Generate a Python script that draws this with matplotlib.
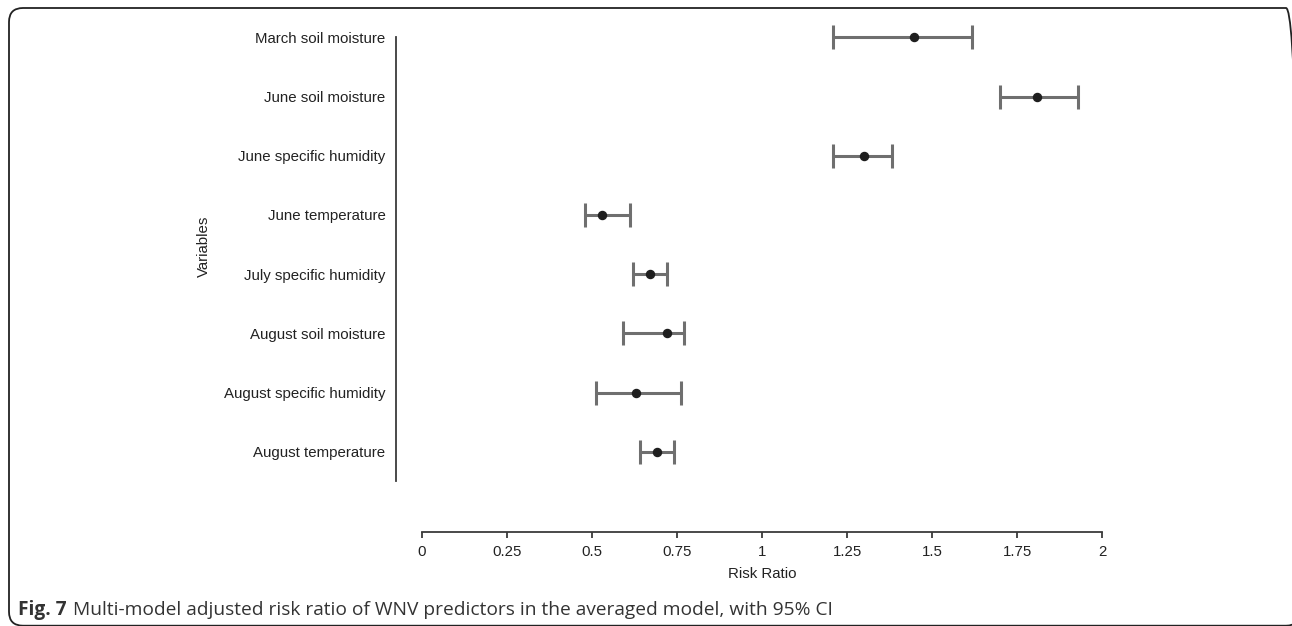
import matplotlib
matplotlib.use("Agg")
import matplotlib.pyplot as plt
from matplotlib.patches import FancyBboxPatch
from matplotlib.transforms import IdentityTransform

# data
variables = ["March soil moisture", "June soil moisture", "June specific humidity",
             "June temperature", "July specific humidity", "August soil moisture",
             "August specific humidity", "August temperature"]
risk_ratio = [1.447, 1.809, 1.30, 0.530, 0.671, 0.721, 0.630, 0.690]
ci_low = [1.209, 1.700, 1.209, 0.480, 0.621, 0.591, 0.511, 0.641]
ci_high = [1.618, 1.929, 1.382, 0.611, 0.722, 0.772, 0.761, 0.741]
xticks = [0, 0.25, 0.5, 0.75, 1, 1.25, 1.5, 1.75, 2]
xtick_labels = ["0", "0.25", "0.5", "0.75", "1", "1.25", "1.5", "1.75", "2"]

plt.rcParams['font.family'] = ['Liberation Sans', 'DejaVu Sans']
FS = 10.8

fig = plt.figure(figsize=(12.92, 6.26), dpi=100)
ax = fig.add_axes([396/1292, 1 - 532/626, 714/1292, 512/626])

ypos = list(range(len(variables)))
xerr = [[r - l for r, l in zip(risk_ratio, ci_low)],
        [h - r for r, h in zip(risk_ratio, ci_high)]]
ax.errorbar(risk_ratio, ypos, xerr=xerr, fmt='o', color='#1e1e1e', markersize=5.8,
            ecolor='#6f6f6f', elinewidth=2.2, capsize=8.5, capthick=2.2, zorder=3)

ax.set_xlim(-26/340, 688/340)
ax.set_ylim((532 - 37.3)/59.2, (20 - 37.3)/59.2)

for s in ['top', 'right']:
    ax.spines[s].set_visible(False)
ax.spines['bottom'].set_bounds(0, 2)
ax.spines['left'].set_bounds(0, 7.5)
for s in ['bottom', 'left']:
    ax.spines[s].set_color('#3a3a3a')
    ax.spines[s].set_linewidth(1.3)

ax.set_xticks(xticks)
ax.set_xticklabels(xtick_labels)
ax.set_yticks(ypos)
ax.set_yticklabels(variables)
ax.tick_params(axis='x', length=4.5, width=1.3, color='#3a3a3a', labelsize=FS,
               labelcolor='#222222', pad=4.5)
ax.tick_params(axis='y', length=0, labelsize=FS, labelcolor='#222222', pad=7.5)

fig.text(762/1292, 1 - 574/626, "Risk Ratio", ha='center', va='center',
         fontsize=FS, color='#222222')
fig.text(204/1292, 1 - 246/626, "Variables", ha='center', va='center',
         rotation=90, fontsize=FS, color='#222222')

# caption: bold label then the rest right after it
cap_font = ['Open Sans', 'DejaVu Sans']
bold = fig.text(18/1292, 1 - 610/626, "Fig. 7", ha='left', va='center', fontsize=13.75,
                fontweight='bold', color='#333333', family=cap_font)
fig.canvas.draw()
bb = bold.get_window_extent(renderer=fig.canvas.get_renderer())
fig.text((bb.x1 + 6)/1292, 1 - 610/626,
         "Multi-model adjusted risk ratio of WNV predictors in the averaged model, with 95% CI",
         ha='left', va='center', fontsize=13.75, color='#333333', family=cap_font)

# rounded frame, right and bottom edges fall just outside the image
frame = FancyBboxPatch((9, 0.3), 1291, 617.7, boxstyle="round,pad=0,rounding_size=14",
                       transform=IdentityTransform(), fill=False,
                       edgecolor='#222222', linewidth=1.3)
fig.add_artist(frame)

fig.savefig("out.png", dpi=100)
